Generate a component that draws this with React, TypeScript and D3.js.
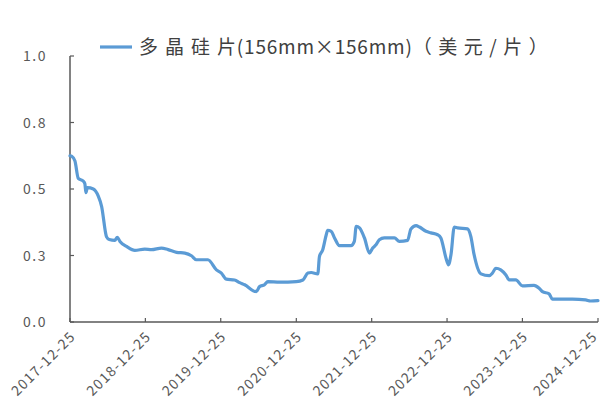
import React from 'react';
import * as d3 from 'd3';

// 多晶硅片(156mm×156mm) 价格, 美元/片
const dates = [
  '2017-12-25', '2018-01-03', '2018-01-18', '2018-02-03', '2018-02-27', '2018-03-07', '2018-03-12', '2018-03-19',
  '2018-04-17', '2018-05-11', '2018-05-27', '2018-06-20', '2018-07-03', '2018-07-30', '2018-08-11', '2018-08-24',
  '2018-09-25', '2018-11-04', '2018-12-22', '2019-01-24', '2019-03-13', '2019-04-14', '2019-05-25', '2019-07-04',
  '2019-08-05', '2019-08-29', '2019-10-24', '2019-12-04', '2019-12-28', '2020-01-21', '2020-03-01', '2020-03-26',
  '2020-04-19', '2020-06-14', '2020-06-30', '2020-07-24', '2020-08-09', '2020-10-05', '2020-12-25', '2021-01-26',
  '2021-02-19', '2021-03-07', '2021-04-08', '2021-04-16', '2021-05-02', '2021-05-19', '2021-05-26', '2021-06-12',
  '2021-06-28', '2021-07-22', '2021-09-16', '2021-10-02', '2021-10-11', '2021-10-27', '2021-11-20', '2021-12-14',
  '2021-12-30', '2022-01-15', '2022-01-31', '2022-02-24', '2022-04-14', '2022-05-08', '2022-06-17', '2022-07-03',
  '2022-07-28', '2022-08-13', '2022-09-14', '2022-10-08', '2022-11-09', '2022-11-25', '2022-12-20', '2023-01-01',
  '2023-01-13', '2023-01-29', '2023-02-14', '2023-04-03', '2023-04-19', '2023-05-05', '2023-06-07', '2023-07-17',
  '2023-08-02', '2023-08-18', '2023-09-11', '2023-10-06', '2023-10-22', '2023-11-23', '2023-12-25', '2024-02-19',
  '2024-03-15', '2024-03-31', '2024-05-02', '2024-05-18', '2024-08-23', '2024-10-26', '2024-11-19', '2024-12-25',
];
const prices = [
  0.625, 0.623, 0.605, 0.54, 0.53, 0.52, 0.486, 0.505,
  0.5, 0.473, 0.435, 0.32, 0.31, 0.307, 0.318, 0.303,
  0.284, 0.269, 0.274, 0.272, 0.278, 0.272, 0.262, 0.259,
  0.249, 0.234, 0.234, 0.196, 0.184, 0.161, 0.158, 0.148,
  0.14, 0.114, 0.133, 0.14, 0.152, 0.15, 0.152, 0.158,
  0.184, 0.186, 0.181, 0.246, 0.272, 0.328, 0.345, 0.341,
  0.316, 0.287, 0.287, 0.303, 0.36, 0.354, 0.316, 0.259,
  0.278, 0.29, 0.309, 0.316, 0.316, 0.303, 0.307, 0.35,
  0.362, 0.357, 0.341, 0.335, 0.328, 0.316, 0.24, 0.215,
  0.253, 0.357, 0.354, 0.35, 0.322, 0.253, 0.181, 0.174,
  0.184, 0.202, 0.196, 0.177, 0.158, 0.158, 0.136, 0.138,
  0.127, 0.114, 0.106, 0.086, 0.086, 0.083, 0.079, 0.08,
];
const xTicks = ['2017-12-25', '2018-12-25', '2019-12-25', '2020-12-25', '2021-12-25', '2022-12-25', '2023-12-25', '2024-12-25'];
const yTicks = [0, 0.25, 0.5, 0.75, 1.0];
// legend text split so the CJK parts can be spaced wider than the latin part
const seriesParts = ['多晶硅', '片(156mm×156mm)', '（美元/片）'];

const W = 603;
const H = 410;
const margin = { left: 70, right: 4, top: 56, bottom: 88 };
const axisColor = '#595959';
const lineColor = '#5B9BD5';
const font = '"Noto Sans CJK SC", "Noto Sans", sans-serif';

const parse = d3.timeParse('%Y-%m-%d');

export default function App() {
  const data = dates.map((d, i) => ({ date: parse(d) as Date, value: prices[i] }));

  const x = d3.scaleTime()
    .domain([parse(xTicks[0]) as Date, parse(xTicks[xTicks.length - 1]) as Date])
    .range([margin.left, W - margin.right - 1]);
  const y = d3.scaleLinear().domain([0, 1]).range([H - margin.bottom, margin.top]);

  const line = d3.line<{ date: Date; value: number }>()
    .x(d => x(d.date))
    .y(d => y(d.value))
    .curve(d3.curveMonotoneX);

  const y0 = y(0);

  return (
    <svg width={W} height={H} style={{ position: 'absolute', left: 0, top: 0, background: '#fff' }} fontFamily={font}>
      {/* legend */}
      <line x1={100} x2={132} y1={47} y2={47} stroke={lineColor} strokeWidth={3.2} />
      <text x={139} y={54} fontSize={19} fill="#404040">
        <tspan letterSpacing={7}>{seriesParts[0]}</tspan>
        <tspan letterSpacing={0.8}>{seriesParts[1]}</tspan>
        <tspan letterSpacing={6.5}>{seriesParts[2]}</tspan>
      </text>

      {/* y axis */}
      <line x1={margin.left} x2={margin.left} y1={y(1)} y2={y0} stroke={axisColor} strokeWidth={1.5} />
      {yTicks.map(t => (
        <g key={t}>
          <line x1={margin.left} x2={margin.left + 4} y1={y(t)} y2={y(t)} stroke={axisColor} strokeWidth={1.2} />
          <text x={47} y={y(t) + 5} textAnchor="end" fontSize={14} fill={axisColor} letterSpacing={1.5}>{d3.format('.1f')(t)}</text>
        </g>
      ))}

      {/* x axis */}
      <line x1={margin.left} x2={x(parse(xTicks[xTicks.length - 1]) as Date)} y1={y0} y2={y0} stroke={axisColor} strokeWidth={1.5} />
      {xTicks.map(t => {
        const px = x(parse(t) as Date);
        return (
          <g key={t}>
            <line x1={px} x2={px} y1={y0} y2={y0 - 4} stroke={axisColor} strokeWidth={1.2} />
            <text
              transform={`translate(${Math.min(px + 3, W - 8)},${y0 + 12}) rotate(-45)`}
              textAnchor="end"
              dy="0.35em"
              fontSize={14}
              letterSpacing={1.2}
              fill={axisColor}
            >{t}</text>
          </g>
        );
      })}

      {/* series */}
      <path d={line(data) || ''} fill="none" stroke={lineColor} strokeWidth={3.2} strokeLinejoin="round" strokeLinecap="round" />
    </svg>
  );
}
